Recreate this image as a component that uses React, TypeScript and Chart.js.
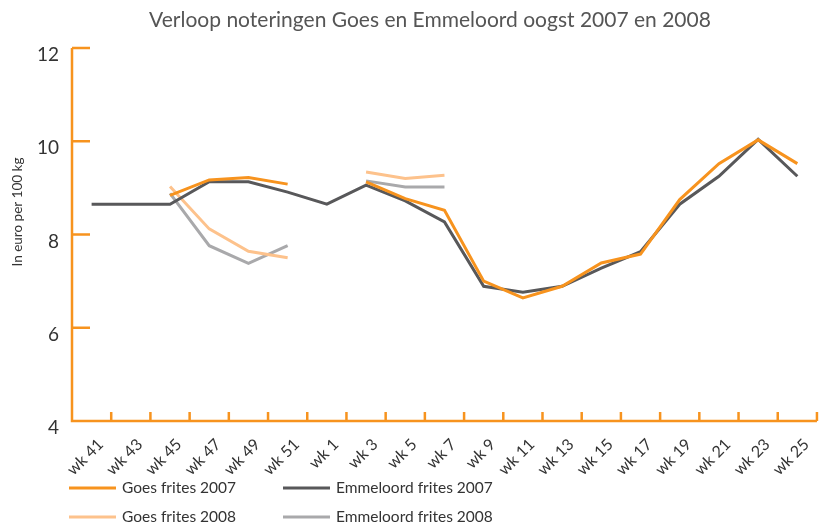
import React, { useEffect, useRef } from "react";
import { Chart, registerables } from "chart.js";

Chart.register(...registerables);

const weeks = ["wk 41", "wk 43", "wk 45", "wk 47", "wk 49", "wk 51", "wk 1", "wk 3", "wk 5", "wk 7", "wk 9", "wk 11", "wk 13", "wk 15", "wk 17", "wk 19", "wk 21", "wk 23", "wk 25"];
const goes2007 = [null, null, 8.84, 9.17, 9.22, 9.08, null, 9.13, 8.77, 8.52, 7.0, 6.64, 6.89, 7.39, 7.58, 8.75, 9.52, 10.03, 9.52];
const emmeloord2007 = [8.65, 8.65, 8.65, 9.13, 9.13, 8.91, 8.65, 9.06, 8.72, 8.27, 6.89, 6.76, 6.89, 7.28, 7.63, 8.65, 9.25, 10.04, 9.25];
const goes2008 = [null, null, 9.03, 8.12, 7.64, 7.5, null, 9.34, 9.2, 9.27, null, null, null, null, null, null, null, null, null];
const emmeloord2008 = [null, null, 8.88, 7.76, 7.38, 7.76, null, 9.15, 9.02, 9.02, null, null, null, null, null, null, null, null, null];
const yTicks = [4, 6, 8, 10, 12];
const seriesNames = ["Goes frites 2007", "Emmeloord frites 2007", "Goes frites 2008", "Emmeloord frites 2008"];
const titleText = "Verloop noteringen Goes en Emmeloord oogst 2007 en 2008";
const yTitle = "In euro per 100 kg";

const ORANGE = "#F7931E";
const DARK = "#58585A";
const LIGHT_ORANGE = "#FDC28C";
const LIGHT_GRAY = "#A9A9AB";
const FONT = "Lato, 'Open Sans', sans-serif";

const decorPlugin = {
  id: "decor",
  beforeDatasetsDraw(chart: any) {
    const { ctx, chartArea, scales } = chart;
    const { left, right, top, bottom } = chartArea;
    const x = scales.x;
    const y = scales.y;
    ctx.save();
    ctx.strokeStyle = ORANGE;
    ctx.lineWidth = 2.5;
    ctx.lineCap = "butt";
    ctx.beginPath();
    ctx.moveTo(left, top);
    ctx.lineTo(left, bottom);
    ctx.lineTo(right, bottom);
    for (const v of yTicks) {
      const py = y.getPixelForValue(v);
      ctx.moveTo(left, py);
      ctx.lineTo(left + 18, py);
    }
    for (let i = 0; i <= weeks.length; i++) {
      const px = x.getPixelForValue(i - 0.5);
      ctx.moveTo(px, bottom);
      ctx.lineTo(px, bottom - 9);
    }
    ctx.stroke();
    ctx.restore();
  },
  afterDraw(chart: any) {
    const { ctx } = chart;
    ctx.save();
    // title
    ctx.fillStyle = "#555555";
    ctx.font = `21px ${FONT}`;
    ctx.textAlign = "center";
    ctx.textBaseline = "middle";
    ctx.fillText(titleText, 430, 20);
    // y title
    ctx.save();
    ctx.translate(18, 212);
    ctx.rotate(-Math.PI / 2);
    ctx.font = `13.5px ${FONT}`;
    ctx.fillStyle = "#333333";
    ctx.fillText(yTitle, 0, 0);
    ctx.restore();
    // legend
    const ds = chart.data.datasets;
    const cols = [69, 283];
    const rows = [488, 517];
    ds.forEach((d: any, i: number) => {
      const cx = cols[i % 2];
      const cy = rows[Math.floor(i / 2)];
      ctx.strokeStyle = d.borderColor;
      ctx.lineWidth = 3;
      ctx.beginPath();
      ctx.moveTo(cx, cy);
      ctx.lineTo(cx + 47, cy);
      ctx.stroke();
      ctx.fillStyle = "#333333";
      ctx.font = `15.5px ${FONT}`;
      ctx.textAlign = "left";
      ctx.textBaseline = "middle";
      ctx.fillText(d.label, cx + 53, cy);
    });
    ctx.restore();
  },
};

export default function App() {
  const ref = useRef<HTMLCanvasElement | null>(null);
  useEffect(() => {
    if (!ref.current) return;
    const chart = new Chart(ref.current, {
      type: "line",
      data: {
        labels: weeks,
        datasets: [
          { label: seriesNames[0], data: goes2007, borderColor: ORANGE, backgroundColor: ORANGE, borderWidth: 3, order: 0 },
          { label: seriesNames[1], data: emmeloord2007, borderColor: DARK, backgroundColor: DARK, borderWidth: 3, order: 1 },
          { label: seriesNames[2], data: goes2008, borderColor: LIGHT_ORANGE, backgroundColor: LIGHT_ORANGE, borderWidth: 3, order: 2 },
          { label: seriesNames[3], data: emmeloord2008, borderColor: LIGHT_GRAY, backgroundColor: LIGHT_GRAY, borderWidth: 3, order: 3 },
        ] as any,
      },
      options: {
        animation: false,
        responsive: false,
        maintainAspectRatio: false,
        layout: { padding: { top: 48, right: 3, left: 0, bottom: 0 } },
        elements: { point: { radius: 0, hoverRadius: 0 }, line: { tension: 0 } },
        spanGaps: false,
        plugins: { legend: { display: false }, title: { display: false }, tooltip: { enabled: false } },
        scales: {
          x: {
            type: "category",
            offset: true,
            grid: { display: false, drawTicks: false },
            border: { display: false },
            ticks: { maxRotation: 45, minRotation: 45, autoSkip: false, padding: 14, labelOffset: 9, color: "#333333", font: { family: FONT, size: 16 } },
            afterFit: (s: any) => { s.height = 105; },
          },
          y: {
            min: 4,
            max: 12,
            grid: { display: false, drawTicks: false },
            border: { display: false },
            ticks: { stepSize: 2, padding: 13, labelOffset: 7, color: "#333333", font: { family: FONT, size: 19 } },
            afterFit: (s: any) => { s.width = 72; },
          },
        },
      },
      plugins: [decorPlugin],
    });
    return () => chart.destroy();
  }, []);
  return (
    <div style={{ position: "absolute", left: 0, top: 0, width: 825, height: 526 }}>
      <canvas ref={ref} width={825} height={526} style={{ width: 825, height: 526 }} />
    </div>
  );
}
